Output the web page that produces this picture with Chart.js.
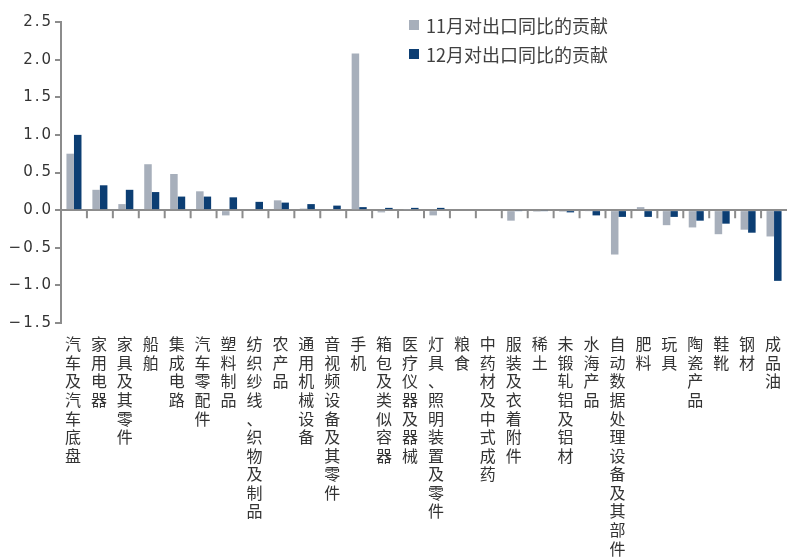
<!DOCTYPE html>
<html>
<head>
<meta charset="utf-8">
<script src="https://cdn.jsdelivr.net/npm/chart.js@4"></script>
<style>
  html, body { margin: 0; padding: 0; background: #fff; }
  #wrap { position: relative; width: 787px; height: 557px; }
  #legend { position: absolute; left: 409px; top: 10px; font-family: "Noto Sans CJK SC", sans-serif; font-size: 18px; color: #404040; }
  .leg-row { display: flex; align-items: center; height: 29px; }
  .leg-box { width: 10px; height: 10px; margin-right: 7px; }
</style>
</head>
<body>
<div id="wrap">
  <canvas id="chart" width="787" height="557"></canvas>
  <div id="legend"></div>
</div>
<script>
const categories = [
  '汽车及汽车底盘', '家用电器', '家具及其零件', '船舶', '集成电路', '汽车零配件', '塑料制品',
  '纺织纱线、织物及制品', '农产品', '通用机械设备', '音视频设备及其零件', '手机', '箱包及类似容器',
  '医疗仪器及器械', '灯具、照明装置及零件', '粮食', '中药材及中式成药', '服装及衣着附件', '稀土',
  '未锻轧铝及铝材', '水海产品', '自动数据处理设备及其部件', '肥料', '玩具', '陶瓷产品', '鞋靴', '钢材', '成品油'
];
const novContrib = [0.75, 0.27, 0.08, 0.61, 0.48, 0.25, -0.07, 0.00, 0.13, 0.02, 0.00, 2.08, -0.03, 0.01,
  -0.07, 0.00, 0.00, -0.14, -0.02, -0.02, -0.01, -0.59, 0.04, -0.20, -0.23, -0.32, -0.26, -0.35];
const decContrib = [1.00, 0.33, 0.27, 0.24, 0.18, 0.18, 0.17, 0.11, 0.10, 0.08, 0.06, 0.04, 0.03, 0.03,
  0.03, 0.00, 0.00, -0.01, -0.01, -0.03, -0.07, -0.09, -0.09, -0.09, -0.14, -0.18, -0.30, -0.94];
const seriesNames = ['11月对出口同比的贡献', '12月对出口同比的贡献'];
const yTicks = [-1.5, -1.0, -0.5, 0.0, 0.5, 1.0, 1.5, 2.0, 2.5];

const GRAY = '#a7afbb';
const NAVY = '#0c3e73';
const AXIS = '#8c8c8c';

// wider letter spacing on the axis text, like the original
const spacing = {
  id: 'spacing',
  beforeDraw(chart) { chart.ctx.letterSpacing = '2px'; },
  afterDraw(chart) { chart.ctx.letterSpacing = '0px'; }
};

// tick marks hanging under the zero line, between categories
const zeroTicks = {
  id: 'zeroTicks',
  afterDatasetsDraw(chart) {
    const x = chart.scales.x, y = chart.scales.y, ctx = chart.ctx;
    const y0 = y.getPixelForValue(0);
    ctx.save();
    ctx.strokeStyle = AXIS;
    ctx.lineWidth = 2;
    ctx.beginPath();
    for (let i = 0; i < categories.length - 1; i++) {
      const xb = (x.getPixelForValue(i) + x.getPixelForValue(i + 1)) / 2;
      ctx.moveTo(xb, y0);
      ctx.lineTo(xb, y0 + 8);
    }
    ctx.stroke();
    ctx.restore();
  }
};

const chart = new Chart(document.getElementById('chart'), {
  type: 'bar',
  data: {
    labels: categories.map(s => Array.from(s)),
    datasets: [
      { label: seriesNames[0], data: novContrib, backgroundColor: GRAY },
      { label: seriesNames[1], data: decContrib, backgroundColor: NAVY }
    ]
  },
  options: {
    responsive: false,
    animation: false,
    layout: { padding: { top: 22, left: 0, right: 0, bottom: 0 } },
    datasets: { bar: { categoryPercentage: 0.58, barPercentage: 1.0 } },
    plugins: { legend: { display: false }, tooltip: { enabled: false } },
    scales: {
      x: {
        grid: { display: false, drawTicks: false },
        border: { display: false },
        ticks: {
          autoSkip: false, maxRotation: 0, minRotation: 0, padding: 12,
          color: '#333', font: { family: '"Noto Sans CJK SC"', size: 16, lineHeight: 1.16 }
        },
        afterFit(s) { s.height = 234; s.paddingLeft = 0; s.paddingRight = 0; }
      },
      y: {
        min: yTicks[0], max: yTicks[yTicks.length - 1],
        afterBuildTicks(s) { s.ticks = yTicks.map(v => ({ value: v })); },
        grid: {
          color: c => (c.tick && c.tick.value === 0 ? AXIS : 'transparent'),
          lineWidth: 2, tickColor: AXIS, tickLength: 6, tickWidth: 2
        },
        border: { display: true, color: AXIS, width: 2 },
        ticks: {
          padding: 2, color: '#333',
          font: { family: '"DejaVu Sans"', size: 15 },
          callback: v => (v < 0 ? '\u2212' : '') + Math.abs(v).toFixed(1)
        },
        afterFit(s) { s.width = 61; }
      }
    }
  },
  plugins: [spacing, zeroTicks]
});

// legend built from the datasets
const legendEl = document.getElementById('legend');
chart.data.datasets.forEach(ds => {
  const row = document.createElement('div');
  row.className = 'leg-row';
  row.innerHTML = `<span class="leg-box" style="background:${ds.backgroundColor}"></span><span>${ds.label}</span>`;
  legendEl.appendChild(row);
});
</script>
</body>
</html>
